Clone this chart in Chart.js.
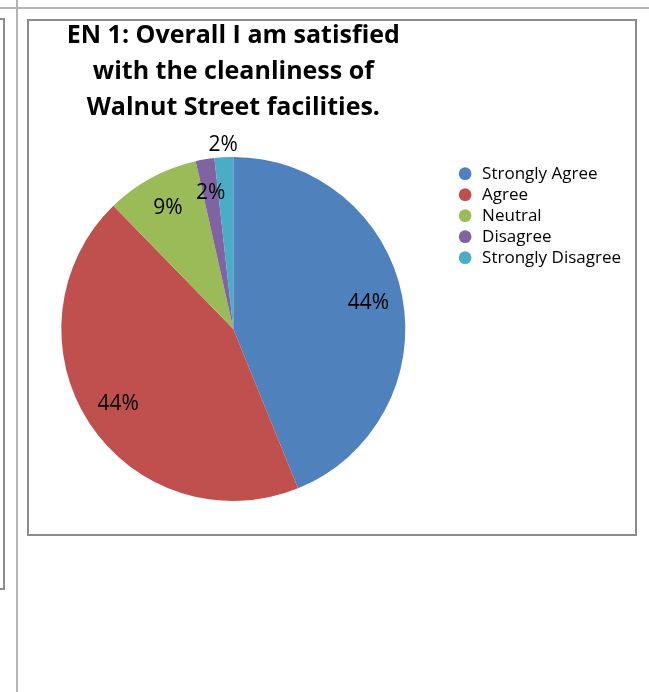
<!DOCTYPE html>
<html>
<head>
<meta charset="utf-8">
<script src="https://cdn.jsdelivr.net/npm/chart.js@4/dist/chart.umd.min.js"></script>
<style>
  html, body { margin: 0; padding: 0; background: #fff; }
  #wrap { position: relative; width: 649px; height: 692px; overflow: hidden; }
  #pieCanvas { position: absolute; left: 0; top: 0; }
  .rule { position: absolute; background: #b4b4b4; }
  .box { position: absolute; box-sizing: border-box; border: 2px solid #8c8c8c; }
</style>
</head>
<body>
<div id="wrap">
  <!-- sheet grid lines and neighbouring chart edge -->
  <div class="rule" style="left:0; top:7px; width:649px; height:2px;"></div>
  <div class="rule" style="left:16px; top:0; width:2px; height:692px;"></div>
  <div class="box" style="left:-20px; top:18px; width:25px; height:572px;"></div>
  <!-- chart frame -->
  <div class="box" style="left:27px; top:19px; width:610px; height:517px;"></div>
  <canvas id="pieCanvas" width="649" height="692"></canvas>
</div>
<script>
// survey answers
const categories = ['Strongly Agree', 'Agree', 'Neutral', 'Disagree', 'Strongly Disagree'];
const counts = [25, 25, 5, 1, 1];
const sliceColors = ['#4F81BD', '#C0504D', '#9BBB59', '#8064A2', '#4BACC6'];
const titleLines = ['EN 1: Overall I am satisfied', 'with the cleanliness of', 'Walnut Street facilities.'];

const FONT = '"Open Sans", Lato, sans-serif';

// how far out each percentage sits, as a fraction of the radius
const labelRadius = [0.8, 0.8, 0.8, 0.8, 1.07];

const percentLabels = {
    id: 'percentLabels',
    afterDatasetsDraw(chart) {
        const ctx = chart.ctx;
        const meta = chart.getDatasetMeta(0);
        const values = chart.data.datasets[0].data;
        const total = values.reduce((a, b) => a + b, 0);
        ctx.save();
        ctx.font = '21px ' + FONT;
        ctx.fillStyle = '#000';
        ctx.textAlign = 'center';
        ctx.textBaseline = 'middle';
        meta.data.forEach((arc, i) => {
            const mid = (arc.startAngle + arc.endAngle) / 2;
            const r = arc.outerRadius * labelRadius[i];
            const x = arc.x + Math.cos(mid) * r;
            const y = arc.y + Math.sin(mid) * r;
            ctx.fillText(Math.round(values[i] / total * 100) + '%', x, y);
        });
        ctx.restore();
    }
};

new Chart(document.getElementById('pieCanvas'), {
    type: 'pie',
    data: {
        labels: categories,
        datasets: [{
            data: counts,
            backgroundColor: sliceColors,
            borderWidth: 0
        }]
    },
    options: {
        responsive: false,
        animation: false,
        layout: {
            padding: { left: 14, right: 18, top: 18, bottom: 191 }
        },
        plugins: {
            title: {
                display: true,
                text: titleLines,
                fullSize: false,
                color: '#000',
                font: { family: FONT, size: 25, weight: 'bold', lineHeight: '36px' },
                padding: { top: 0, bottom: 31 }
            },
            legend: {
                position: 'right',
                align: 'start',
                fullSize: false,
                title: {
                    // empty spacer so the first entry sits a little lower
                    display: true,
                    text: '',
                    padding: { top: 3, bottom: 0 },
                    font: { size: 1 }
                },
                labels: {
                    usePointStyle: true,
                    pointStyle: 'circle',
                    boxHeight: 9,
                    padding: 4,
                    color: '#000',
                    font: { family: FONT, size: 17 }
                }
            },
            tooltip: { enabled: false }
        }
    },
    plugins: [percentLabels]
});
</script>
</body>
</html>
